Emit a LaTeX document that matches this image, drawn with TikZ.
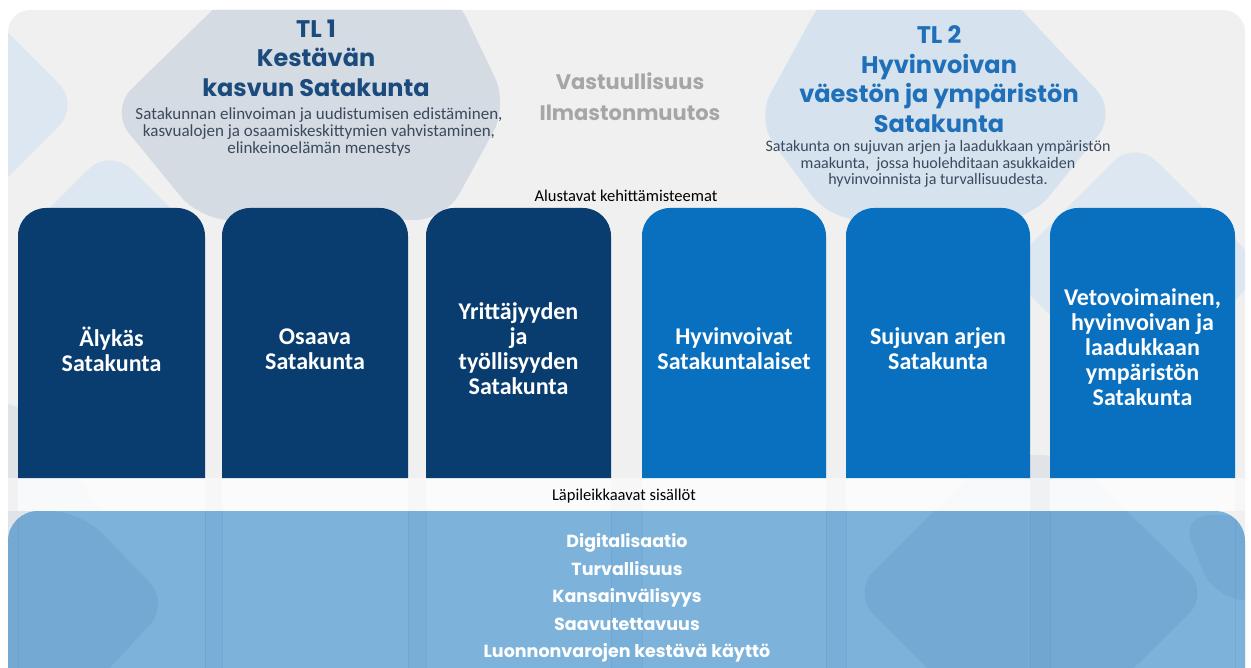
\documentclass[tikz,border=0pt]{standalone}
\usepackage{fontspec}
\setmainfont{Carlito}
\newfontfamily\geo{Poppins}
\definecolor{bggray}{HTML}{F0F0F0}
\definecolor{hexgray}{HTML}{D5DBE3}
\definecolor{hexblue}{HTML}{D6E3EF}
\definecolor{paleblue}{HTML}{DCE7F1}
\definecolor{stripgray}{HTML}{E0E3E8}
\definecolor{bandblue}{HTML}{7DB3DB}
\definecolor{banddeep}{HTML}{5C93C3}
\definecolor{pillardark}{HTML}{0A3D6F}
\definecolor{pillarblue}{HTML}{0870BF}
\definecolor{tlnavy}{HTML}{1B4B7D}
\definecolor{tlblue}{HTML}{1F70B8}
\definecolor{subtext}{HTML}{3A4A5C}
\definecolor{vastgray}{HTML}{A6A6A6}

\begin{document}
\begin{tikzpicture}[x=1pt, y=-1pt,
    deco/.style={rounded corners=30},
    pillartext/.style={text=white, align=center, inner sep=0pt, font=\bfseries\fontsize{24}{25}\selectfont},
    tltitle/.style={align=center, inner sep=0pt, font=\geo\bfseries\fontsize{24}{29.5}\selectfont},
    tlsub/.style={align=center, inner sep=0pt, text=subtext, font=\fontsize{17}{17}\selectfont},
    bandtext/.style={align=center, inner sep=0pt, text=white, font=\geo\bfseries\fontsize{17.5}{27.5}\selectfont},
    caption/.style={inner sep=0pt, font=\fontsize{16.5}{17}\selectfont}]

    \useasboundingbox (0,0) rectangle (1251,668);
    \fill[white] (0,0) rectangle (1251,668);
    \fill[bggray, rounded corners=22] (8,10) rectangle (1245,700);

    \begin{scope}
        \clip[rounded corners=22] (8,10) rectangle (1245,700);
        \fill[paleblue, deco] (-60,-35) -- (80,105) -- (-60,245) -- cycle;
        \fill[paleblue, deco] (110,148) -- (200,238) -- (110,328) -- (20,238) -- cycle;
        \fill[paleblue, deco] (1135,140) -- (1265,270) -- (1135,400) -- (1005,270) -- cycle;
        \fill[hexgray, deco] (233,-10) -- (453,-10) -- (508,105) -- (445,220) -- (200,220) -- (110,110) -- cycle;
        \fill[hexblue, deco] (827,-10) -- (1003,-10) -- (1117,112) -- (1030,220) -- (830,220) -- (756,120) -- cycle;

        \fill[stripgray, deco] (852,593) -- (990,455) -- (1070,455) -- (1210,593) -- (1070,731) -- (990,731) -- cycle;
        \fill[stripgray, deco] (-80,400) -- (20,400) -- (170,603) -- (20,760) -- (-80,760) -- cycle;
        \fill[white, opacity=0.5] (8,478) rectangle (1245,511);
        \foreach \xa/\xb in {18/205, 222/408, 426/611, 642/826, 846/1030, 1050/1235}
            \fill[white, opacity=0.6] (\xa,478) rectangle (\xb,511);

        \fill[bandblue, rounded corners=30] (8,511) rectangle (1245,720);
        \begin{scope}
            \clip[rounded corners=30] (8,511) rectangle (1245,720);
            \fill[banddeep, opacity=0.3, deco] (852,593) -- (990,455) -- (1070,455) -- (1210,593) -- (1070,731) -- (990,731) -- cycle;
            \fill[banddeep, opacity=0.3, deco] (-80,511) -- (80,511) -- (170,603) -- (80,700) -- (-80,700) -- cycle;
            \fill[banddeep, opacity=0.25, deco] (1180,515) -- (1300,515) -- (1300,600) -- (1215,600) -- cycle;
            \foreach \xa/\xb in {205/222, 408/426, 611/642, 826/846, 1030/1050}
                \fill[banddeep, opacity=0.12] (\xa,511) rectangle (\xb,700);
            \foreach \xa in {18, 205, 222, 408, 426, 611, 642, 826, 846, 1030, 1050, 1235}
                \draw[banddeep, opacity=0.3, line width=0.6pt] (\xa,511) -- (\xa,700);
        \end{scope}
    \end{scope}

    \foreach \xa/\xb/\c in {18/205/pillardark, 222/408/pillardark, 426/611/pillardark, 642/826/pillarblue, 846/1030/pillarblue, 1050/1235/pillarblue}
        \fill[\c, rounded corners=28] (\xa,478) |- ({(\xa+\xb)/2},208) -| (\xb,478);

    \node[tltitle, text=tlnavy] (tl1) at (316,58) {TL 1\\Kestävän\\kasvun Satakunta};
    \node[tlsub] (tl1sub) at (319,132) {Satakunnan elinvoiman ja uudistumisen edistäminen,\\kasvualojen ja osaamiskeskittymien vahvistaminen,\\elinkeinoelämän menestys};
    \node[align=center, inner sep=0pt, text=vastgray, font=\geo\bfseries\fontsize{21}{31}\selectfont] (teemat) at (630,97) {Vastuullisuus\\Ilmastonmuutos};
    \node[tltitle, text=tlblue] (tl2) at (939,79) {TL 2\\Hyvinvoivan\\väestön ja ympäristön\\Satakunta};
    \node[tlsub, font=\fontsize{16}{16.5}\selectfont] (tl2sub) at (938,164) {Satakunta on sujuvan arjen ja laadukkaan ympäristön\\maakunta,\ \ jossa huolehditaan asukkaiden\\hyvinvoinnista ja turvallisuudesta.};
    \node[caption] (alustavat) at (626,196) {Alustavat kehittämisteemat};

    \node[pillartext] (alykas) at (111.5,349.5) {Älykäs\\Satakunta};
    \node[pillartext] (osaava) at (315,349.5) {Osaava\\Satakunta};
    \node[pillartext] (yrittajyys) at (518.5,348.5) {Yrittäjyyden\\ja\\työllisyyden\\Satakunta};
    \node[pillartext] (hyvinvoivat) at (734,349) {Hyvinvoivat\\Satakuntalaiset};
    \node[pillartext] (sujuva) at (938,349) {Sujuvan arjen\\Satakunta};
    \node[pillartext] (vetovoima) at (1142.5,347) {Vetovoimainen,\\hyvinvoivan ja\\laadukkaan\\ympäristön\\Satakunta};

    \node[caption] (lapileikkaavat) at (624,496) {Läpileikkaavat sisällöt};
    \node[bandtext] (sisallot) at (627,598) {Digitalisaatio\\Turvallisuus\\Kansainvälisyys\\Saavutettavuus\\Luonnonvarojen kestävä käyttö};
\end{tikzpicture}
\end{document}
